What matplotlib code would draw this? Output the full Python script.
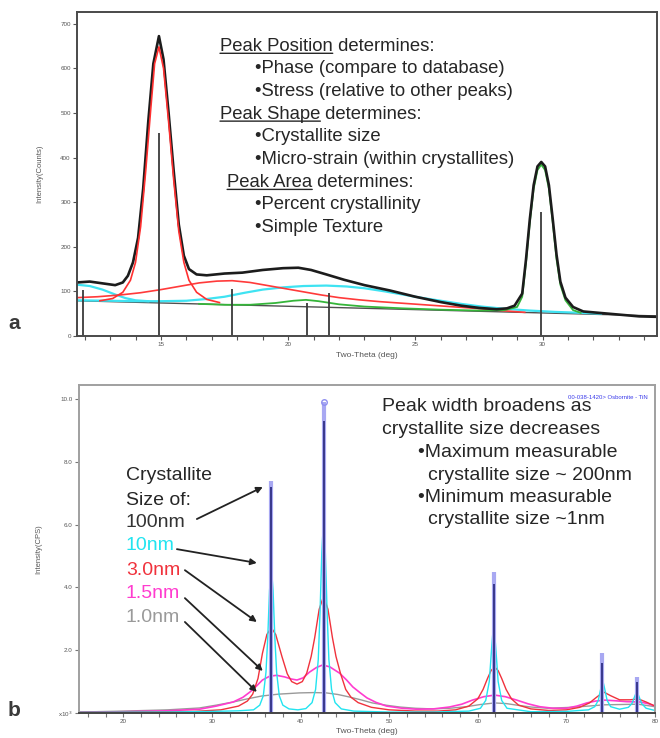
import matplotlib
matplotlib.use('Agg')
import matplotlib.pyplot as plt

plt.rcParams['font.family'] = ['Liberation Sans', 'DejaVu Sans']

# ---------------- panel a : measured scan + fitted components (2theta, counts)
tt_meas = [11.7, 12.2, 12.7, 13.2, 13.5, 13.7, 13.9, 14.1, 14.3, 14.5,
           14.7, 14.92, 15.1, 15.3, 15.5, 15.7, 15.9, 16.1, 16.4, 16.8,
           17.5, 18.2, 19.0, 19.8, 20.4, 20.9, 21.5, 22.2, 23.0, 24.0,
           25.0, 26.0, 26.8, 27.5, 28.2, 28.6, 28.9, 29.2, 29.35, 29.5,
           29.65, 29.8, 29.95, 30.1, 30.25, 30.4, 30.55, 30.7, 30.9, 31.2,
           31.6, 32.2, 33.0, 33.8, 34.5]
counts_meas = [120, 122, 118, 114, 120, 135, 165, 220, 330, 480,
               610, 672, 620, 500, 370, 250, 180, 150, 138, 136,
               140, 142, 148, 152, 153, 148, 138, 126, 114, 102,
               88, 76, 68, 63, 60, 62, 68, 95, 172, 262,
               338, 380, 390, 380, 338, 262, 182, 122, 86, 65,
               55, 52, 48, 44, 43]

tt_red_n = [12.6, 13.1, 13.5, 13.8, 14.0, 14.2, 14.4, 14.6, 14.75, 14.92,
            15.1, 15.3, 15.5, 15.7, 15.9, 16.1, 16.4, 16.8, 17.3]
red_n = [79, 84, 98, 125, 165, 245, 370, 510, 610, 648,
         600, 480, 350, 235, 165, 125, 98, 82, 75]

tt_red_b = [11.7, 12.5, 13.4, 14.2, 15.0, 15.8, 16.5, 17.2, 17.8, 18.5, 19.2, 19.9,
            20.6, 21.3, 22.0, 22.8, 23.6, 24.6, 25.6, 26.6, 27.6, 28.6, 29.3]
red_b = [86, 88, 92, 97, 104, 112, 119, 123, 124, 120, 113, 106,
         99, 92, 86, 81, 77, 73, 69, 65, 61, 56, 53]

tt_cyan_b = [11.7, 13.0, 14.0, 15.0, 16.0, 16.8, 17.5, 18.3, 19.0, 19.8, 20.6, 21.5, 22.3,
             23.0, 23.8, 24.5, 25.2, 26.0, 26.8, 27.6, 28.5, 29.5, 30.5, 31.5, 32.3]
cyan_b = [80, 79, 78, 78, 79, 83, 88, 97, 104, 109, 112, 113, 111,
          107, 100, 93, 86, 79, 72, 66, 61, 57, 54, 52, 50]

tt_cyan_l = [11.7, 12.2, 12.7, 13.2, 13.6, 14.0, 14.5]
cyan_l = [115, 112, 104, 93, 85, 80, 78]

tt_green = [16.5, 17.5, 18.5, 19.5, 20.2, 20.7, 21.2, 22.0, 23.0, 24.5, 26.0, 27.5, 28.5, 29.0,
            29.2, 29.35, 29.5, 29.65, 29.8, 29.95, 30.1, 30.25, 30.4, 30.55, 30.7, 30.9, 31.2, 31.5]
green = [72, 70, 70, 74, 79, 81, 78, 71, 66, 62, 59, 57, 58, 65,
         88, 165, 255, 330, 372, 384, 372, 330, 255, 172, 115, 80, 58, 52]

tt_bkg = [11.7, 34.5]
bkg = [79, 45]

stick_pos_a = [11.95, 14.92, 17.8, 20.75, 21.6, 29.95]
stick_int_a = [102, 455, 105, 74, 96, 278]

notes_a = ['Peak Position', ' determines:', '\u2022Phase (compare to database)',
           '\u2022Stress (relative to other peaks)', 'Peak Shape', ' determines:',
           '\u2022Crystallite size', '\u2022Micro-strain (within crystallites)',
           'Peak Area', ' determines:', '\u2022Percent crystallinity', '\u2022Simple Texture']

# ---------------- panel b : TiN pattern broadened by crystallite size (x10^3 CPS)
ref_pos = [36.66, 42.6, 61.81, 74.07, 77.96]
ref_int = [7.4, 9.9, 4.5, 1.9, 1.15]
int_100nm = [7.2, 9.3, 4.1, 1.6, 1.0]

tt_10nm = [15, 25, 30, 33, 34.7, 35.4, 35.8, 36.1, 36.3, 36.5,
           36.7, 36.9, 37.1, 37.3, 37.6, 38.0, 38.7, 39.7, 40.6, 41.3,
           41.7, 42.0, 42.2, 42.4, 42.6, 42.8, 43.0, 43.2, 43.5, 43.9,
           44.6, 46.0, 50.0, 55.0, 59.0, 60.3, 60.9, 61.3, 61.6, 61.8,
           62.0, 62.3, 62.7, 63.3, 66.0, 70.0, 72.5, 73.2, 73.6, 73.9,
           74.1, 74.3, 74.6, 75.0, 76.0, 77.0, 77.4, 77.7, 77.96, 78.2,
           78.5, 79.0, 80.0]
int_10nm = [0.02, 0.03, 0.05, 0.07, 0.1, 0.25, 0.55, 1.3, 2.4, 3.9,
            4.7, 3.9, 2.4, 1.3, 0.55, 0.25, 0.13, 0.1, 0.14, 0.33,
            0.75, 1.7, 3.2, 5.1, 6.2, 5.1, 3.2, 1.7, 0.75, 0.33,
            0.13, 0.06, 0.03, 0.03, 0.06, 0.15, 0.4, 1.0, 2.2, 2.9,
            2.2, 1.0, 0.4, 0.15, 0.04, 0.05, 0.1, 0.2, 0.4, 0.8,
            1.05, 0.8, 0.4, 0.2, 0.12, 0.18, 0.3, 0.52, 0.7, 0.52,
            0.3, 0.15, 0.08]

tt_3nm = [15, 22, 28, 31, 33, 34.0, 34.6, 35.2, 35.7, 36.2,
          36.7, 37.2, 37.9, 38.5, 39.0, 39.6, 40.2, 40.7, 41.2, 41.6,
          42.1, 42.6, 43.1, 43.6, 44.0, 44.5, 45.1, 45.7, 46.5, 48.0,
          50.0, 53.0, 55.5, 57.5, 59.0, 60.0, 60.6, 61.1, 61.5, 61.9,
          62.3, 62.7, 63.2, 63.8, 64.6, 66.0, 68.0, 70.0, 71.5, 72.6,
          73.4, 74.2, 75.0, 76.0, 77.2, 78.1, 79.0, 80.0]
int_3nm = [0.02, 0.03, 0.05, 0.1, 0.22, 0.38, 0.6, 1.1, 1.9, 2.5,
           2.72, 2.5, 1.8, 1.25, 1.0, 0.92, 1.0, 1.27, 1.8, 2.4,
           3.3, 3.72, 3.3, 2.4, 1.8, 1.27, 0.75, 0.5, 0.33, 0.18,
           0.1, 0.06, 0.06, 0.1, 0.22, 0.45, 0.75, 1.1, 1.35, 1.47,
           1.35, 1.1, 0.75, 0.45, 0.25, 0.13, 0.08, 0.1, 0.18, 0.32,
           0.5, 0.67, 0.55, 0.42, 0.42, 0.45, 0.35, 0.22]

tt_1_5nm = [15, 20, 25, 28.6, 30.5, 32.4, 33.5, 34.3, 35.0, 35.7,
            36.5, 37.3, 38.2, 39.0, 39.6, 40.3, 41.0, 41.8, 42.5, 43.3,
            44.4, 45.2, 45.9, 46.7, 47.5, 48.5, 49.7, 51.5, 53.1, 55.0,
            56.8, 58.2, 59.4, 60.7, 61.9, 63.1, 64.4, 65.7, 67.0, 68.5,
            70.0, 71.2, 72.3, 73.3, 74.3, 75.5, 76.8, 78.3, 79.2, 80.0]
int_1_5nm = [0.02, 0.04, 0.07, 0.12, 0.22, 0.35, 0.5, 0.67, 0.85, 1.05,
             1.17, 1.2, 1.15, 1.08, 1.05, 1.12, 1.3, 1.45, 1.53, 1.47,
             1.27, 1.05, 0.83, 0.65, 0.48, 0.34, 0.22, 0.15, 0.12, 0.13,
             0.19, 0.28, 0.41, 0.52, 0.57, 0.52, 0.41, 0.29, 0.2, 0.15,
             0.15, 0.22, 0.32, 0.38, 0.41, 0.39, 0.36, 0.35, 0.3, 0.22]

tt_1nm = [15, 20, 25, 28.6, 30.5, 32.4, 34.0, 35.6, 37.5, 39.9,
          41.5, 42.9, 44.2, 45.5, 46.8, 48.1, 49.6, 51.2, 53.0, 54.9,
          56.8, 58.7, 60.3, 61.9, 63.2, 64.4, 66.0, 67.9, 70.5, 72.5,
          74.3, 76.2, 78.1, 80.0]
int_1nm = [0.03, 0.06, 0.1, 0.16, 0.25, 0.35, 0.45, 0.54, 0.6, 0.64,
           0.65, 0.64, 0.59, 0.51, 0.42, 0.32, 0.25, 0.19, 0.15, 0.13,
           0.15, 0.2, 0.27, 0.32, 0.3, 0.25, 0.19, 0.15, 0.18, 0.22,
           0.26, 0.27, 0.28, 0.2]

size_labels = ['100nm', '10nm', '3.0nm', '1.5nm', '1.0nm']
size_colors = ['#333333', '#22e4f0', '#f0323c', '#ff3ccf', '#9a9a9a']

notes_b = ['Peak width broadens as', 'crystallite size decreases',
           '\u2022Maximum measurable', 'crystallite size ~ 200nm',
           '\u2022Minimum measurable', 'crystallite size ~1nm']

txt = '#262626'

fig = plt.figure(figsize=(6.6, 7.38), dpi=100)

# ======================= panel a
ax1 = fig.add_axes([0.1167, 0.5447, 0.8788, 0.4390])
ax1.plot(tt_bkg, bkg, color='#505050', lw=1.0)
ax1.plot(tt_cyan_l, cyan_l, color='#3fe3f2', lw=1.6)
ax1.plot(tt_cyan_b, cyan_b, color='#3fe3f2', lw=1.6)
ax1.plot(tt_red_b, red_b, color='#ff3a3a', lw=1.2)
ax1.plot(tt_green, green, color='#35b53a', lw=1.3)
ax1.plot(tt_meas, counts_meas, color='#1c1c1c', lw=1.9)
ax1.plot(tt_red_n, red_n, color='#ff3030', lw=1.2)
ax1.vlines(stick_pos_a, 0, stick_int_a, color='#3a3a3a', lw=1.3)

ax1.set_xlim(11.7, 34.5)
ax1.set_ylim(0, 726)
ax1.set_xticks([15, 20, 25, 30])
ax1.set_xticks(range(12, 35), minor=True)
ax1.set_yticks(range(0, 800, 100))
ax1.tick_params(which='both', direction='out', length=3, width=0.8, color='#555555',
                labelsize=4.5, labelcolor='#555555', pad=1.5)
for s in ax1.spines.values():
    s.set_color('#4a4a4a')
    s.set_linewidth(1.4)
ax1.set_xlabel('Two-Theta (deg)', fontsize=6, color='#555555')
ax1.xaxis.set_label_coords(0.5, -0.05)
ax1.set_ylabel('Intensity(Counts)', fontsize=5.5, color='#555555')
ax1.yaxis.set_label_coords(-0.058, 0.5)

fs_a = 13.3
rows_y = [648, 599, 547, 496, 446, 395, 343, 294, 244]
rows_x = [17.32, 18.7, 18.7, 17.32, 18.7, 18.7, 17.6, 18.7, 18.7]
k = 0
for i in range(9):
    if i in (0, 3, 6):
        head = ax1.text(rows_x[i], rows_y[i], notes_a[k], fontsize=fs_a, color=txt,
                        ha='left', va='center')
        ax1.annotate(notes_a[k + 1], xy=(1, 0), xycoords=head, ha='left', va='bottom',
                     fontsize=fs_a, color=txt)
        ax1.annotate('', xy=(0, 0.12), xycoords=head, xytext=(1, 0.12), textcoords=head,
                     arrowprops=dict(arrowstyle='-', color=txt, lw=1.0,
                                     shrinkA=0, shrinkB=0))
        k += 2
    else:
        ax1.text(rows_x[i], rows_y[i], notes_a[k], fontsize=fs_a, color=txt,
                 ha='left', va='center')
        k += 1

fig.text(0.021, 1 - 324 / 738, 'a', fontsize=15, fontweight='bold', color='#3a3a3a',
         ha='center', va='center')

# ======================= panel b
ax2 = fig.add_axes([0.1197, 0.0339, 0.8727, 0.4444])
ax2.plot(tt_1nm, int_1nm, color=size_colors[4], lw=1.0)
ax2.plot(tt_1_5nm, int_1_5nm, color=size_colors[3], lw=1.2)
ax2.plot(tt_3nm, int_3nm, color=size_colors[2], lw=1.0)
ax2.plot(tt_10nm, int_10nm, color=size_colors[1], lw=1.0)
ax2.vlines(ref_pos, 0, ref_int, color='#a8a8f2', lw=3.0)
ax2.vlines(ref_pos, 0, int_100nm, color='#25257a', lw=1.2)
top = ref_int.index(max(ref_int))
ax2.plot([ref_pos[top]], [ref_int[top]], 'o', ms=4, mfc='none', mec='#8f8ff0', mew=1.0)

ax2.set_xlim(15, 80)
ax2.set_ylim(0, 10.45)
ax2.set_xticks(range(20, 81, 10))
ax2.set_xticks(range(16, 81, 2), minor=True)
ax2.set_yticks([0, 2, 4, 6, 8, 10])
ax2.set_yticklabels(['x10$^3$', '2.0', '4.0', '6.0', '8.0', '10.0'])
ax2.tick_params(which='both', direction='out', length=3, width=0.8, color='#777777',
                labelsize=4.5, labelcolor='#555555', pad=1.5)
for s in ax2.spines.values():
    s.set_color('#a0a0a0')
    s.set_linewidth(1.4)
ax2.spines['bottom'].set_color('#444444')
ax2.set_xlabel('Two-Theta (deg)', fontsize=6, color='#555555')
ax2.xaxis.set_label_coords(0.5, -0.045)
ax2.set_ylabel('Intensity(CPS)', fontsize=5.5, color='#555555')
ax2.yaxis.set_label_coords(-0.064, 0.5)

ax2.text(0.988, 0.963, '00-038-1420> Osbornite - TiN', transform=ax2.transAxes,
         ha='right', va='center', fontsize=4.3, color='#3b3bea')

fs_b = 14
ax2.text(20.3, 7.58, 'Crystallite', fontsize=fs_b, color=txt, va='center')
ax2.text(20.3, 6.78, 'Size of:', fontsize=fs_b, color=txt, va='center')
lab_y = [6.08, 5.35, 4.55, 3.82, 3.03]
tail_x = [28.3, 26.05, 26.95, 26.95, 26.95]
tail_y = [6.18, 5.22, 4.55, 3.66, 2.9]
tip_x = [35.74, 35.07, 35.07, 35.74, 35.07]
tip_y = [7.2, 4.78, 2.9, 1.34, 0.67]
for i, lab in enumerate(size_labels):
    ax2.text(20.3, lab_y[i], lab, fontsize=fs_b, color=size_colors[i], va='center')
    ax2.annotate('', xy=(tip_x[i], tip_y[i]), xytext=(tail_x[i], tail_y[i]),
                 arrowprops=dict(arrowstyle='-|>', color='#222222', lw=1.3,
                                 mutation_scale=9, shrinkA=0, shrinkB=0))

nb_x = [49.16, 49.16, 53.2, 54.35, 53.2, 54.35]
nb_y = [9.75, 9.02, 8.31, 7.58, 6.88, 6.15]
for i, line in enumerate(notes_b):
    ax2.text(nb_x[i], nb_y[i], line, fontsize=fs_b, color=txt, va='center')

fig.text(0.021, 1 - 711 / 738, 'b', fontsize=15, fontweight='bold', color='#3a3a3a',
         ha='center', va='center')

fig.savefig('out.png', dpi=100)
